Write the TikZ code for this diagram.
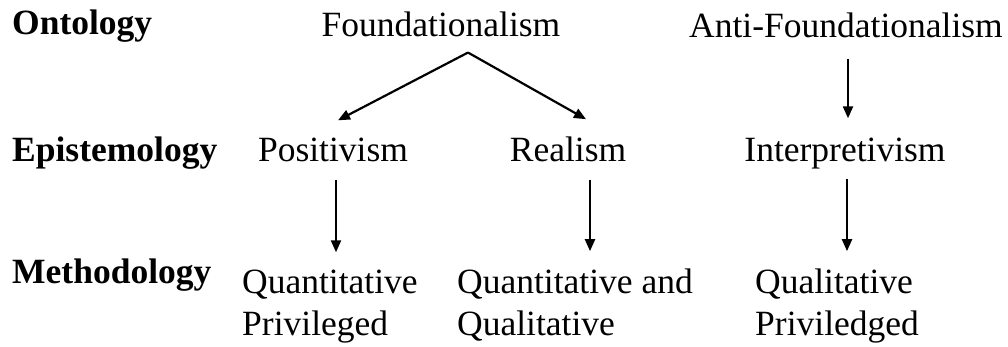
\documentclass[tikz,border=0pt]{standalone}
\usepackage{fontspec}
\setmainfont{Liberation Serif}
\usetikzlibrary{arrows.meta}
\begin{document}
\begin{tikzpicture}[x=1pt,y=-1pt,
  txt/.style={inner sep=0pt, font=\fontsize{35.5pt}{42pt}\selectfont},
  lvl/.style={inner sep=0pt, font=\fontsize{35.5pt}{42pt}\selectfont\bfseries, anchor=base west},
  item/.style={txt, anchor=base},
  cell/.style={txt, anchor=base west},
  arr/.style={line width=2.2pt, -{Triangle[length=12pt,width=10pt]}}]
\useasboundingbox (0,0) rectangle (1008,347);

% row labels
\node[lvl] (ont)  at (12,35)  {Ontology};
\node[lvl] (epi)  at (12,162) {Epistemology};
\node[lvl] (meth) at (12,283) {Methodology};

% ontology
\node[item] (found) at (441,37) {Foundationalism};
\node[item] (anti)  at (846,38) {Anti-Foundationalism};

% epistemology
\node[item] (pos)    at (333,162) {Positivism};
\node[item] (real)   at (568,162) {Realism};
\node[item] (interp) at (845,162) {Interpretivism};

% methodology
\node[cell] (quant)  at (242,293) {Quantitative};
\node[cell] (priv)   at (242,335) {Privileged};
\node[cell] (mixed)  at (457,293) {Quantitative and};
\node[cell] (mixedb) at (457,335) {Qualitative};
\node[cell] (qual)   at (755,293) {Qualitative};
\node[cell] (privd)  at (755,335) {Priviledged};

% connectors
\coordinate (apex) at ([xshift=27pt,yshift=-15pt]found.south);
\draw[arr, line join=miter] (apex) -- ([xshift=5pt,yshift=18pt]pos.north);
\draw[arr, line join=miter] (apex) -- ([xshift=18pt,yshift=18pt]real.north);
\draw[arr] ([xshift=2pt,yshift=-20pt]anti.south) -- ([xshift=3pt,yshift=20pt]interp.north);

\draw[arr] ([xshift=3pt,yshift=-17pt]pos.south) -- ([xshift=3pt,yshift=17pt]pos.south |- quant.north);
\draw[arr] ([xshift=22pt,yshift=-17pt]real.south) -- ([xshift=22pt,yshift=17pt]real.south |- mixed.north);
\draw[arr] ([xshift=2pt,yshift=-9pt]interp.south) -- ([xshift=2pt,yshift=17pt]interp.south |- qual.north);
\end{tikzpicture}
\end{document}
